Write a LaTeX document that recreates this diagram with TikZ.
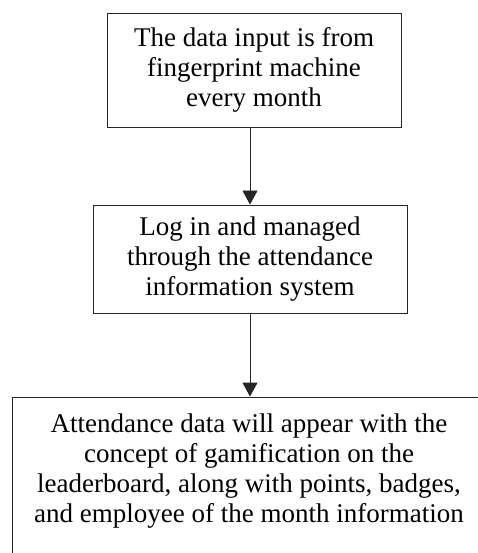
\documentclass[tikz,border=0pt]{standalone}
\usepackage{fontspec}
\setmainfont{Liberation Serif}
\usetikzlibrary{arrows.meta}
\begin{document}
\begin{tikzpicture}[x=1bp,y=1bp,
  flowbox/.style={draw=black!85, line width=0.9bp, rectangle, inner sep=0pt},
  flowtext/.style={align=center, font=\fontsize{27bp}{30bp}\selectfont, inner sep=0pt},
  flowarrow/.style={draw=black!85, line width=0.9bp, -{Triangle[width=15bp,length=14bp]}}]
\useasboundingbox (0,0) rectangle (478,-553);
\node[flowbox, minimum width=294bp, minimum height=114bp] (b1) at (254,-70) {};
\node[flowtext] (t1) at (254,-70) {The data input is from\\ fingerprint machine\\ every month};
\node[flowbox, minimum width=314bp, minimum height=108bp] (b2) at (250,-259) {};
\node[flowtext] (t2) at (250,-259) {Log in and managed\\ through the attendance\\ information system};
\node[flowbox, minimum width=476bp, minimum height=203bp] (b3) at (250,-498.5) {};
\node[flowtext] (t3) at (249,-471) {Attendance data will appear with the\\ concept of gamification on the\\ leaderboard, along with points, badges,\\ and employee of the month information};
\draw[flowarrow] (b1.south -| b2.north) -- (b2.north);
\draw[flowarrow] (b2.south) -- (b3.north);
\end{tikzpicture}
\end{document}
